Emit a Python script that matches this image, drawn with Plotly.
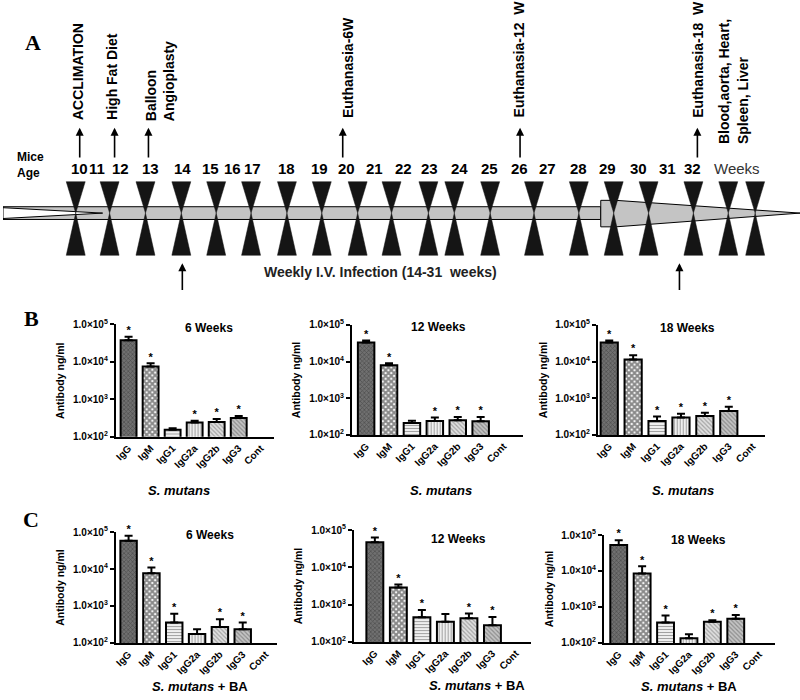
import plotly.graph_objects as go

# ---------------- data ----------------
categories = ["IgG", "IgM", "IgG1", "IgG2a", "IgG2b", "IgG3", "Cont"]

b6_mean = [38000, 7600, 155, 240, 250, 320, None]
b6_top = [47000, 9200, 170, 270, 300, 360, None]
b6_sig = [1, 1, 0, 1, 1, 1, 0]

b12_mean = [33000, 8000, 210, 240, 250, 235, None]
b12_top = [38000, 9000, 245, 300, 310, 310, None]
b12_sig = [1, 1, 0, 1, 1, 1, 0]

b18_mean = [33000, 11500, 240, 300, 330, 450, None]
b18_top = [38000, 15000, 320, 380, 400, 590, None]
b18_sig = [1, 1, 1, 1, 1, 1, 0]

c6_mean = [58000, 7700, 360, 175, 270, 235, None]
c6_top = [80000, 11000, 620, 235, 440, 360, None]
c6_sig = [1, 1, 1, 0, 1, 1, 0]

c12_mean = [47000, 2900, 460, 350, 430, 280, None]
c12_top = [63000, 3500, 720, 560, 580, 470, None]
c12_sig = [1, 1, 1, 0, 1, 1, 0]

c18_mean = [53000, 8500, 370, 135, 390, 470, None]
c18_top = [72000, 13500, 580, 175, 430, 600, None]
c18_sig = [1, 1, 1, 0, 1, 1, 0]

panel_titles = ["6 Weeks", "12 Weeks", "18 Weeks"]
ytick_vals = [100, 1000, 10000, 100000]
ytick_text = ["1.0×10<sup>2</sup>", "1.0×10<sup>3</sup>", "1.0×10<sup>4</sup>", "1.0×10<sup>5</sup>"]

# timeline (panel A)
week_labels = ["10", "11", "12", "13", "14", "15", "16", "17", "18", "19", "20", "21",
               "22", "23", "24", "25", "26", "27", "28", "29", "30", "31", "32"]
week_label_x = [77, 94, 118, 148, 180, 208, 230, 250, 285, 318, 345, 373,
                402, 428, 458, 488, 518, 547, 578, 607, 638, 667, 692]
bowtie_x = [73, 107, 143, 179, 214, 249, 285, 320, 356, 390, 427, 453, 489,
            533, 578, 613, 648, 693, 728, 755]
event_texts = ["ACCLIMATION", "High Fat Diet", "Balloon<br>Angioplasty",
               "Euthanasia-6W", "Euthanasia-12  W", "Euthanasia-18  W",
               "Blood,aorta, Heart,<br>Spleen, Liver"]
event_text_x = [76, 110, 157, 347, 518, 698, 733]
event_text_bottom = [117, 117, 118, 115, 115, 115, 142]
event_arrow_x = [77, 112, 146, 341, 519, 697]
infection_arrow_x = [180, 679]

# ---------------- styling ----------------
FONT = "Liberation Sans"
patterns = [
    dict(shape="x", fgcolor="#2a2a2a", bgcolor="#707070", size=3, solidity=0.4),
    dict(shape="x", fgcolor="#111111", bgcolor="#ffffff", size=4, solidity=0.75),
    dict(shape="-", fgcolor="#444444", bgcolor="#ffffff", size=3, solidity=0.45),
    dict(shape="|", fgcolor="#444444", bgcolor="#ffffff", size=3, solidity=0.45),
    dict(shape="\\", fgcolor="#666666", bgcolor="#e0e0e0", size=3, solidity=0.4),
    dict(shape="\\", fgcolor="#555555", bgcolor="#c4c4c4", size=3, solidity=0.4),
    dict(shape="", fgcolor="#000000", bgcolor="#ffffff"),
]

W, H = 800, 700

def px_x(v):
    return v / W

def px_y(v):
    return 1 - v / H

panels = [
    # mean, top, sig, x-domain px, y px (1e5, 1e2), x-range, title pos, xtitle pos, xtitle
    (b6_mean, b6_top, b6_sig, (113, 272), (323.5, 438), (-0.59, 6.6), (207, 327), (177, 493), "<b><i>S. mutans</i></b>"),
    (b12_mean, b12_top, b12_sig, (350, 522), (324, 436), (-0.63, 6.85), (437, 326), (440, 493), "<b><i>S. mutans</i></b>"),
    (b18_mean, b18_top, b18_sig, (597, 765), (324, 436), (-0.48, 6.52), (687, 327), (683, 493), "<b><i>S. mutans</i></b>"),
    (c6_mean, c6_top, c6_sig, (113, 275), (535, 648), (-0.57, 6.5), (208, 538), (198, 692), "<b><i>S. mutans</i> + BA</b>"),
    (c12_mean, c12_top, c12_sig, (352, 530), (533, 647), (-0.9, 6.64), (457, 542), (476, 691), "<b><i>S. mutans</i> + BA</b>"),
    (c18_mean, c18_top, c18_sig, (603, 775), (538, 648), (-0.64, 6.68), (698, 543), (689, 692), "<b><i>S. mutans</i> + BA</b>"),
]

fig = go.Figure()
annotations = []
shapes = []
layout_axes = {}

for i, (mean, top, sig, xd, yd, xr, tpos, xtpos, xtitle) in enumerate(panels):
    n = i + 1
    xa = "x" if n == 1 else f"x{n}"
    ya = "y" if n == 1 else f"y{n}"
    xs = list(range(len(categories)))
    plus = [(t - m) if (t is not None and m is not None) else None for m, t in zip(mean, top)]
    minus = [0 if m is not None else None for m in mean]
    for j, cat in enumerate(categories):
        fig.add_trace(go.Bar(
            x=[xs[j]], y=[mean[j]], width=0.72,
            marker=dict(color=patterns[j]["bgcolor"], pattern=patterns[j],
                        line=dict(color="black", width=2)),
            error_y=dict(type="data", symmetric=False, array=[plus[j]], arrayminus=[minus[j]],
                         color="black", thickness=2, width=4),
            xaxis=xa, yaxis=ya, showlegend=False, hoverinfo="skip"))
    sx = [xs[j] for j in range(len(categories)) if sig[j] and top[j] is not None]
    sy = [top[j] for j in range(len(categories)) if sig[j] and top[j] is not None]
    fig.add_trace(go.Scatter(x=sx, y=sy, mode="text", text=["*"] * len(sx),
                             textfont=dict(family=FONT, size=11, color="black", weight="bold"),
                             textposition="top center", xaxis=xa, yaxis=ya, cliponaxis=False,
                             showlegend=False, hoverinfo="skip"))
    xkey = "xaxis" if n == 1 else f"xaxis{n}"
    ykey = "yaxis" if n == 1 else f"yaxis{n}"
    layout_axes[xkey] = dict(
        domain=[px_x(xd[0]), px_x(xd[1])], anchor=ya, range=list(xr),
        tickvals=xs, ticktext=categories, tickangle=-45, ticks="",
        tickfont=dict(family=FONT, size=10, color="black", weight="bold"),
        showline=True, linecolor="black", linewidth=1.5, showgrid=False, zeroline=False)
    layout_axes[ykey] = dict(
        domain=[px_y(yd[1]), px_y(yd[0])], anchor=xa, type="log", range=[2, 5],
        tickvals=ytick_vals, ticktext=ytick_text, ticks="outside", ticklen=4,
        tickcolor="black", tickwidth=1.5,
        tickfont=dict(family=FONT, size=10, color="black", weight="bold"),
        showline=True, linecolor="black", linewidth=1.5, showgrid=False, zeroline=False,
        title=dict(text="Antibody ng/ml", standoff=6,
                   font=dict(family=FONT, size=10.5, color="black", weight="bold")))
    annotations.append(dict(text=panel_titles[i % 3], x=px_x(tpos[0]), y=px_y(tpos[1]),
                            xref="paper", yref="paper", showarrow=False,
                            xanchor="center", yanchor="middle",
                            font=dict(family=FONT, size=12, color="black", weight="bold")))
    annotations.append(dict(text=xtitle, x=px_x(xtpos[0]), y=px_y(xtpos[1]),
                            xref="paper", yref="paper", showarrow=False,
                            xanchor="center", yanchor="middle",
                            font=dict(family=FONT, size=13, color="black")))

# timeline axis (pixel-like units)
layout_axes["xaxis7"] = dict(domain=[0, 1], range=[0, 800], visible=False, anchor="y7", fixedrange=True)
layout_axes["yaxis7"] = dict(domain=[px_y(300), 1], range=[300, 0], visible=False, anchor="x7", fixedrange=True)
fig.add_trace(go.Scatter(x=[0, 800], y=[0, 300], mode="markers", marker=dict(opacity=0),
                         xaxis="x7", yaxis="y7", showlegend=False, hoverinfo="skip"))

# gray bar and arrows
shapes.append(dict(type="rect", xref="x7", yref="y7", x0=0, x1=600, y0=203.5, y1=216.5,
                   fillcolor="#c4c4c4", line=dict(color="black", width=1)))
shapes.append(dict(type="path", xref="x7", yref="y7",
                   path="M 0 204.5 L 100 210 L 0 215.5 Z",
                   fillcolor="white", line=dict(color="black", width=1)))
shapes.append(dict(type="path", xref="x7", yref="y7",
                   path="M 600 197 L 615 197 L 800 210 L 615 224 L 600 224 Z",
                   fillcolor="#c4c4c4", line=dict(color="black", width=1)))
for cx in bowtie_x:
    shapes.append(dict(type="path", xref="x7", yref="y7",
                       path=f"M {cx-9.5} 178 L {cx+9.5} 178 L {cx} 210 Z",
                       fillcolor="#151515", line=dict(color="#151515", width=0.5)))
    shapes.append(dict(type="path", xref="x7", yref="y7",
                       path=f"M {cx} 210 L {cx+9.5} 253 L {cx-9.5} 253 Z",
                       fillcolor="#151515", line=dict(color="#151515", width=0.5)))

for lab, lx in zip(week_labels, week_label_x):
    annotations.append(dict(text=lab, x=lx, y=165, xref="x7", yref="y7", showarrow=False,
                            xanchor="center", yanchor="middle",
                            font=dict(family=FONT, size=15, color="black", weight="bold")))
annotations.append(dict(text="Weeks", x=737, y=165, xref="x7", yref="y7", showarrow=False,
                        xanchor="center", yanchor="middle",
                        font=dict(family=FONT, size=15, color="#333333")))
annotations.append(dict(text="Mice<br>Age", x=12, y=161, xref="x7", yref="y7", showarrow=False,
                        xanchor="left", yanchor="middle", align="left",
                        font=dict(family=FONT, size=12, color="black", weight="bold")))
for t, tx, tb in zip(event_texts, event_text_x, event_text_bottom):
    annotations.append(dict(text=t, x=tx, y=tb, xref="x7", yref="y7", showarrow=False,
                            textangle=-90, xanchor="center", yanchor="bottom", align="left",
                            font=dict(family=FONT, size=14, color="black", weight="bold")))
for ax_ in event_arrow_x:
    annotations.append(dict(text="", x=ax_, y=123, ax=ax_, ay=155, xref="x7", yref="y7",
                            axref="x7", ayref="y7", showarrow=True, arrowhead=2,
                            arrowsize=1, arrowwidth=1.6, arrowcolor="black"))
for ax_ in infection_arrow_x:
    annotations.append(dict(text="", x=ax_, y=261, ax=ax_, ay=290, xref="x7", yref="y7",
                            axref="x7", ayref="y7", showarrow=True, arrowhead=2,
                            arrowsize=1, arrowwidth=1.6, arrowcolor="black"))
annotations.append(dict(text="Weekly I.V. Infection (14-31  weeks)", x=379, y=270,
                        xref="x7", yref="y7", showarrow=False, xanchor="center", yanchor="middle",
                        font=dict(family=FONT, size=14, color="#222222", weight="bold")))

# panel letters
for letter, lx, ly in [("A", 30, 36), ("B", 29, 317), ("C", 28, 522)]:
    annotations.append(dict(text=letter, x=px_x(lx), y=px_y(ly), xref="paper", yref="paper",
                            showarrow=False, xanchor="center", yanchor="middle",
                            font=dict(family="Liberation Serif", size=22, color="black", weight="bold")))

fig.update_layout(
    width=W, height=H, margin=dict(l=0, r=0, t=0, b=0),
    paper_bgcolor="white", plot_bgcolor="white",
    barmode="overlay", showlegend=False,
    annotations=annotations, shapes=shapes, **layout_axes)

fig.write_html("out.html", config={"displayModeBar": False},
               post_script="document.body.style.margin='0px';")
